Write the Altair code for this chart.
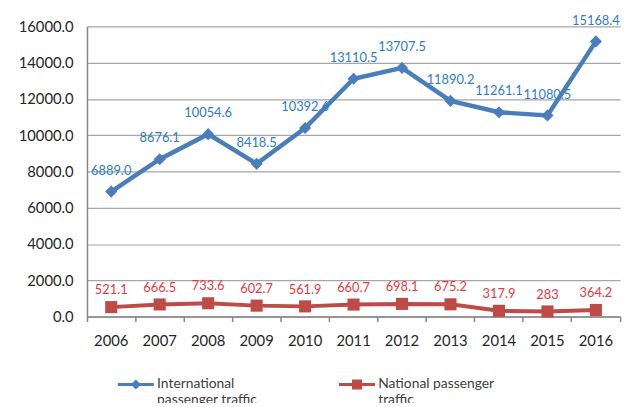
import altair as alt
import pandas as pd

years = ["2006", "2007", "2008", "2009", "2010", "2011", "2012", "2013", "2014", "2015", "2016"]
international = [6889.0, 8676.1, 10054.6, 8418.5, 10392.6, 13110.5, 13707.5, 11890.2, 11261.1, 11080.5, 15168.4]
national = [521.1, 666.5, 733.6, 602.7, 561.9, 660.7, 698.1, 675.2, 317.9, 283, 364.2]
series_names = ["International|passenger traffic", "National passenger|traffic"]
y_ticks = [0, 2000, 4000, 6000, 8000, 10000, 12000, 14000, 16000]

line_colors = ["#4A7EBB", "#BE4B48"]
label_colors = ["#2E7BCB", "#E8373F"]

rows = []
for y, v in zip(years, international):
    rows.append({"year": y, "value": v, "series": series_names[0], "label": f"{v:.1f}"})
for y, v in zip(years, national):
    rows.append({"year": y, "value": v, "series": series_names[1], "label": f"{v:g}"})
df = pd.DataFrame(rows)

FONT = "Lato"

x_enc = alt.X(
    "year:O",
    scale=alt.Scale(type="band", paddingInner=0, paddingOuter=0),
    axis=alt.Axis(
        title=None, bandPosition=1, tickExtra=True, labelOffset=0,
        tickColor="#868686", tickSize=5, tickWidth=1.5, domainColor="#868686", domainWidth=1.5,
        labelFont=FONT, labelFontSize=15, labelColor="#262626", labelPadding=12,
        labelAngle=0, grid=False,
    ),
)
y_enc = alt.Y(
    "value:Q",
    scale=alt.Scale(domain=[0, 16000], nice=False),
    axis=alt.Axis(
        title=None, values=y_ticks, format=".1f", ticks=False,
        grid=True, gridColor="#A6A6A6", gridWidth=1.2,
        domainColor="#868686", domainWidth=1.5,
        labelFont=FONT, labelFontSize=15, labelColor="#262626", labelPadding=14,
    ),
)

layers = []
specs = [
    (series_names[0], line_colors[0], label_colors[0], 4.5, "diamond", 150, -21),
    (series_names[1], line_colors[1], label_colors[1], 4, "square", 150, -17),
]
for name, lc, tc, sw, shp, sz, dy in specs:
    base = alt.Chart(df).transform_filter(alt.datum.series == name)
    layers.append(base.mark_line(color=lc, strokeWidth=sw).encode(x=x_enc, y=y_enc))
    layers.append(base.mark_point(shape=shp, size=sz, filled=True, color=lc, opacity=1).encode(x=x_enc, y=y_enc))
    layers.append(base.mark_text(color=tc, font=FONT, fontSize=13, dy=dy).encode(x=x_enc, y=y_enc, text="label:N"))

diamond_path = "M-1,-0.085L1,-0.085L1,0.085L-1,0.085Z M0,-0.28L0.28,0L0,0.28L-0.28,0Z"
square_path = "M-1,-0.085L1,-0.085L1,0.085L-1,0.085Z M-0.28,-0.28L0.28,-0.28L0.28,0.28L-0.28,0.28Z"

legend_layer = alt.Chart(df).mark_point(filled=True, opacity=0).encode(
    x=x_enc, y=y_enc,
    color=alt.Color("series:N", scale=alt.Scale(domain=series_names, range=line_colors),
                    legend=alt.Legend(
                        title=None, orient="none", legendX=31, legendY=344, direction="horizontal",
                        symbolSize=1330, symbolOpacity=1, symbolStrokeWidth=0,
                        labelExpr="split(datum.label, '|')",
                        labelFont=FONT, labelFontSize=14, labelColor="#404040",
                        labelOffset=3, columnPadding=82, labelLimit=300, padding=0,
                    )),
    shape=alt.Shape("series:N", scale=alt.Scale(domain=series_names, range=[diamond_path, square_path]),
                    legend=None),
)

chart = alt.layer(*layers, legend_layer).properties(
    width=540, height=294,
    autosize=alt.AutoSizeParams(type="none"),
    padding={"left": 80, "top": 16, "right": 11, "bottom": 85},
).configure_view(stroke=None)

chart.save("out.html", embed_options={"renderer": "svg", "actions": False})
